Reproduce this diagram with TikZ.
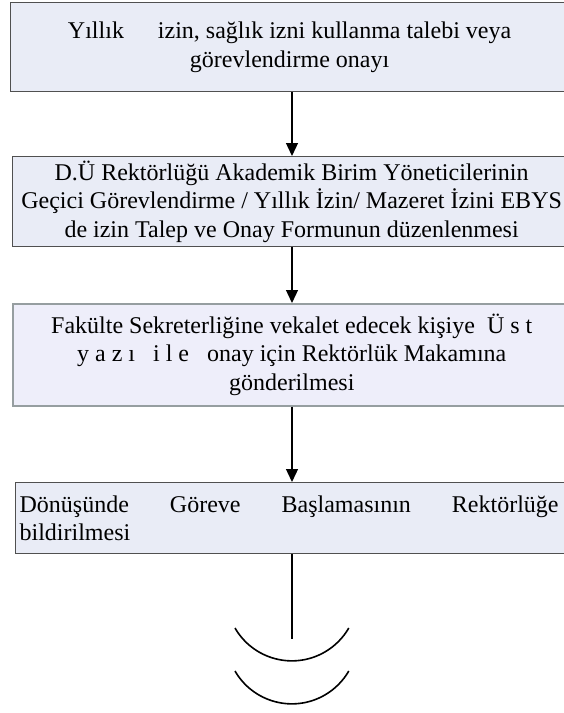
\documentclass[tikz,border=0pt]{standalone}
\usepackage{fontspec}
\setmainfont{Liberation Serif}
\usetikzlibrary{arrows.meta}
\definecolor{boxfill}{RGB}{233,236,246}
\definecolor{boxfillb}{RGB}{238,238,250}
\definecolor{boxline}{RGB}{80,80,80}
\definecolor{boxlineb}{RGB}{150,158,160}
\tikzset{
  flowbox/.style={draw=boxline, fill=boxfill, line width=1.2pt, anchor=north west,
    minimum width=558pt, align=center, inner sep=4pt,
    font=\fontsize{24}{28.5}\selectfont},
  conn/.style={line width=1.3pt, -{Triangle[width=12pt,length=13pt]}},
  plainline/.style={line width=1.3pt},
  contarc/.style={line width=1.6pt}
}
\begin{document}
\begin{tikzpicture}[x=1pt,y=-1pt]
\useasboundingbox (0,0) rectangle (564,713);
\coordinate (ax) at (292,0);
\node[flowbox, minimum height=89pt] (b1) at (10,2)
  {Yıllık\hspace{34pt}izin, sağlık izni kullanma talebi veya\\ görevlendirme onayı};
\node[flowbox, minimum height=84pt] (b2) at (12,156)
  {D.Ü Rektörlüğü Akademik Birim Yöneticilerinin\\
   Geçici Görevlendirme / Yıllık İzin/ Mazeret İzini EBYS\\
   de izin Talep ve Onay Formunun düzenlenmesi};
\node[flowbox, draw=boxlineb, fill=boxfillb, line width=1.5pt, minimum height=102pt] (b3) at (12,303)
  {Fakülte Sekreterliğine vekalet edecek kişiye\ \ Ü s t\\
   y a z ı\ \ \ i l e\ \ \ onay için Rektörlük Makamına\\
   gönderilmesi};
\node[flowbox, minimum width=0pt, text width=545pt, align=left, minimum height=71pt] (b4) at (15,482)
  {\hbox to 539pt{Dönüşünde\hfill Göreve\hfill Başlamasının\hfill Rektörlüğe}\\ bildirilmesi};
\coordinate (endp) at (292,639);
\draw[conn] (b1.south -| ax) -- (b2.north -| ax);
\draw[conn] (b2.south -| ax) -- (b3.north -| ax);
\draw[conn] (b3.south -| ax) -- (b4.north -| ax);
\draw[plainline] (b4.south -| ax) -- (endp);
\draw[contarc] (235,628) arc[start angle=150, end angle=30, radius=65.7];
\draw[contarc] (235,671) arc[start angle=150, end angle=30, radius=65.7];
\end{tikzpicture}
\end{document}
